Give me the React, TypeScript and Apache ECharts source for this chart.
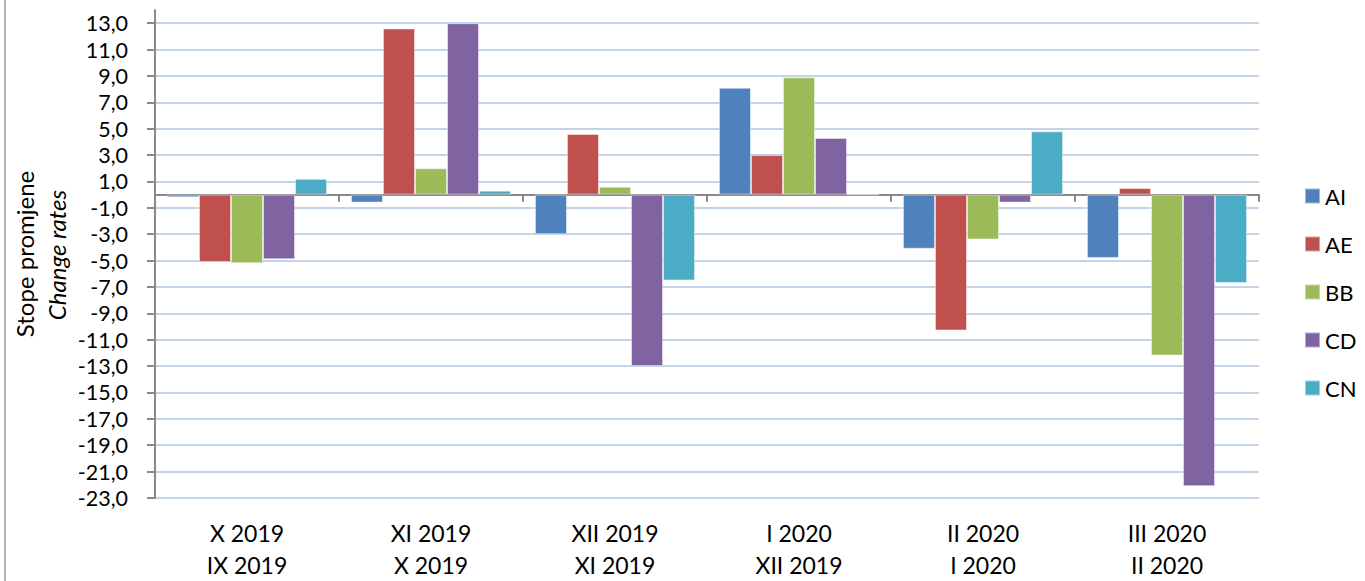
import React, { useEffect, useRef } from "react";
import * as echarts from "echarts";

const categories = [
  "X 2019\nIX 2019",
  "XI 2019\nX 2019",
  "XII 2019\nXI 2019",
  "I 2020\nXII 2019",
  "II 2020\nI 2020",
  "III 2020\nII 2020",
];
const seriesNames = ["AI", "AE", "BB", "CD", "CN"];
const AI = [-0.2, -0.6, -3.0, 8.1, -4.1, -4.8];
const AE = [-5.1, 12.6, 4.6, 3.0, -10.3, 0.5];
const BB = [-5.2, 2.0, 0.6, 8.9, -3.4, -12.2];
const CD = [-4.9, 13.0, -13.0, 4.3, -0.6, -22.1];
const CN = [1.2, 0.3, -6.5, 0, 4.8, -6.7];
const yTicks = [-23, -21, -19, -17, -15, -13, -11, -9, -7, -5, -3, -1, 1, 3, 5, 7, 9, 11, 13];
const colors = ["#4F81BD", "#C0504D", "#9BBB59", "#8064A2", "#4BACC6"];

const FONT = "Lato, 'Open Sans', sans-serif";

export default function App() {
  const ref = useRef<HTMLDivElement>(null);
  useEffect(() => {
    if (!ref.current) return;
    const chart = echarts.init(ref.current, null, { renderer: "svg" });
    const values = [AI, AE, BB, CD, CN];
    chart.setOption({
      animation: false,
      backgroundColor: "#ffffff",
      grid: { left: 155, right: 106, top: 10, bottom: 81, containLabel: false },
      legend: {
        orient: "vertical",
        left: 1299,
        top: 179,
        itemWidth: 15,
        itemHeight: 15,
        itemGap: 24,
        icon: "rect",
        data: seriesNames,
        textStyle: { fontFamily: FONT, fontSize: 22, color: "#000", lineHeight: 24 },
      },
      xAxis: [
        {
          type: "category",
          data: categories,
          position: "bottom",
          axisLine: { show: false, onZero: false },
          axisTick: { show: false },
          axisLabel: {
            margin: 19,
            fontFamily: FONT,
            fontSize: 23,
            lineHeight: 32,
            color: "#000",
            interval: 0,
          },
          splitLine: { show: false },
        },
        {
          type: "category",
          data: categories,
          position: "bottom",
          axisLine: { show: true, onZero: true, lineStyle: { color: "#898989", width: 2 } },
          axisTick: { show: true, length: 7, inside: false, lineStyle: { color: "#898989", width: 2 } },
          axisLabel: { show: false },
          splitLine: { show: false },
        },
      ],
      yAxis: {
        type: "value",
        min: -23,
        max: 14,
        axisLine: { show: true, lineStyle: { color: "#898989", width: 2 } },
        axisTick: {
          show: true,
          length: 8,
          inside: false,
          customValues: yTicks,
          lineStyle: { color: "#898989", width: 2 },
        },
        axisLabel: {
          customValues: yTicks,
          margin: 27,
          fontFamily: FONT,
          fontSize: 21.5,
          lineHeight: 22,
          color: "#000",
          formatter: (v: number) => v.toFixed(1).replace(".", ","),
        },
        splitLine: { show: true, lineStyle: { color: "#C3D4E8", width: 2 } },
      },
      series: seriesNames.map((name, i) => ({
        name,
        type: "bar",
        xAxisIndex: 0,
        data: values[i],
        barGap: "0%",
        barCategoryGap: "13%",
        itemStyle: { color: colors[i], borderColor: "rgba(255,255,255,0.45)", borderWidth: 1 },
      })),
      graphic: [
        {
          type: "line",
          shape: { x1: 5, y1: 0, x2: 5, y2: 581 },
          style: { stroke: "#9a9a9a", lineWidth: 1.5 },
        },
        {
          type: "text",
          x: 24,
          y: 254,
          rotation: Math.PI / 2,
          style: {
            text: "Stope promjene",
            fontFamily: FONT,
            fontSize: 24,
            fill: "#000",
            align: "center",
            verticalAlign: "middle",
          },
        },
        {
          type: "text",
          x: 56,
          y: 255,
          rotation: Math.PI / 2,
          style: {
            text: "Change rates",
            fontFamily: FONT,
            fontSize: 24,
            fontStyle: "italic",
            fill: "#000",
            align: "center",
            verticalAlign: "middle",
          },
        },
      ],
    });
    return () => chart.dispose();
  }, []);
  return (
    <div
      ref={ref}
      style={{ position: "fixed", left: 0, top: 0, width: 1365, height: 581 }}
    />
  );
}
